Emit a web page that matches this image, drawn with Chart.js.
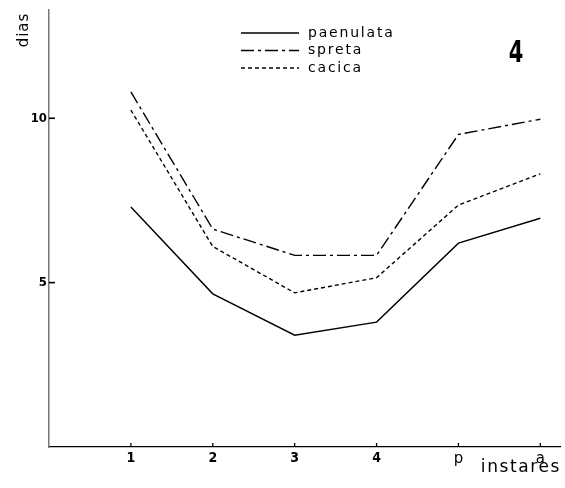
<!DOCTYPE html>
<html>
<head>
<meta charset="utf-8">
<script src="https://cdn.jsdelivr.net/npm/chart.js@4/dist/chart.umd.min.js"></script>
<style>
  html, body { margin: 0; padding: 0; background: #fff; }
  #wrap { width: 565px; height: 488px; }
</style>
</head>
<body>
<div id="wrap"><canvas id="chart" width="565" height="488"></canvas></div>
<script>
const stages = [1, 2, 3, 4, 5, 6];
const stageLabels = ["1", "2", "3", "4", "p", "a"];
const yTicks = [5, 10];

const paenulata = [7.3, 4.66, 3.4, 3.8, 6.2, 6.96];
const spreta = [10.8, 6.63, 5.83, 5.83, 9.51, 9.97];
const cacica = [10.25, 6.1, 4.69, 5.15, 7.36, 8.31];

const seriesNames = ["paenulata", "spreta", "cacica"];
const dashes = [[], [13, 4, 3, 4], [4, 3]];

function toPoints(values) {
    return stages.map((x, i) => ({ x: x, y: values[i] }));
}

// tick marks inside the axes, plus free texts (legend, "dias", "instares", "4")
const decorPlugin = {
    id: "decor",
    afterDraw(chart) {
        const ctx = chart.ctx;
        const xs = chart.scales.x;
        const ys = chart.scales.y;
        const area = chart.chartArea;
        ctx.save();
        ctx.strokeStyle = "#000";
        ctx.lineWidth = 1.3;
        stages.forEach(v => {
            const px = xs.getPixelForValue(v);
            ctx.beginPath();
            ctx.moveTo(px, area.bottom);
            ctx.lineTo(px, area.bottom - 4);
            ctx.stroke();
        });
        ctx.lineWidth = 1.6;
        yTicks.forEach(v => {
            const py = ys.getPixelForValue(v);
            ctx.beginPath();
            ctx.moveTo(area.left, py);
            ctx.lineTo(area.left + 6, py);
            ctx.stroke();
        });

        // legend
        ctx.fillStyle = "#000";
        ctx.font = "14px 'DejaVu Sans'";
        ctx.letterSpacing = "1.8px";
        ctx.textBaseline = "middle";
        ctx.textAlign = "left";
        seriesNames.forEach((name, i) => {
            const y = 33 + i * 17.5;
            ctx.setLineDash(dashes[i]);
            ctx.lineWidth = 1.3;
            ctx.beginPath();
            ctx.moveTo(241, y);
            ctx.lineTo(299, y);
            ctx.stroke();
            ctx.setLineDash([]);
            ctx.fillText(name, 308, y);
        });

        // "instares"
        ctx.textBaseline = "alphabetic";
        ctx.font = "17px 'DejaVu Sans'";
        ctx.letterSpacing = "1.6px";
        ctx.textAlign = "right";
        ctx.fillText("instares", 561, 472);

        // "dias"
        ctx.textAlign = "center";
        ctx.textBaseline = "middle";
        ctx.save();
        ctx.translate(24, 30);
        ctx.rotate(-Math.PI / 2);
        ctx.font = "15px 'DejaVu Sans'";
        ctx.letterSpacing = "1px";
        ctx.fillText("dias", 0, 0);
        ctx.restore();

        // panel number
        ctx.letterSpacing = "0px";
        ctx.translate(516, 54);
        ctx.scale(0.75, 1);
        ctx.font = "bold 31px 'DejaVu Sans Condensed'";
        ctx.fillText("4", 0, 0);
        ctx.restore();
    }
};

const datasets = [paenulata, spreta, cacica].map((vals, i) => ({
    label: seriesNames[i],
    data: toPoints(vals),
    borderColor: "#000",
    borderWidth: 1.4,
    borderDash: dashes[i],
    pointRadius: 0,
    tension: 0,
    fill: false
}));

new Chart(document.getElementById("chart"), {
    type: "line",
    data: { datasets: datasets },
    options: {
        responsive: false,
        animation: false,
        layout: { padding: { top: 9, right: 5, left: 0, bottom: 0 } },
        plugins: {
            legend: { display: false },
            tooltip: { enabled: false }
        },
        scales: {
            x: {
                type: "linear",
                min: 0,
                max: 6.24,
                afterBuildTicks: scale => { scale.ticks = stages.map(v => ({ value: v })); },
                afterFit: scale => { scale.height = 41; },
                grid: { display: false, drawTicks: false, tickLength: 0 },
                border: { display: true, color: "#000", width: 1.3 },
                ticks: {
                    padding: 3,
                    color: "#000",
                    maxRotation: 0,
                    autoSkip: false,
                    font: c => c.index >= 4
                        ? { family: "'DejaVu Sans'", size: 15 }
                        : { family: "'DejaVu Sans Condensed'", size: 14, weight: "bold" },
                    callback: (v, i) => stageLabels[i]
                }
            },
            y: {
                min: 0,
                max: 13.3,
                afterBuildTicks: scale => { scale.ticks = yTicks.map(v => ({ value: v })); },
                afterFit: scale => { scale.width = 49; },
                grid: { display: false, drawTicks: false, tickLength: 0 },
                border: { display: true, color: "#777", width: 1.5 },
                ticks: {
                    padding: 2,
                    color: "#000",
                    font: { family: "'DejaVu Sans Condensed'", size: 13, weight: "bold" }
                }
            }
        }
    },
    plugins: [decorPlugin]
});
</script>
</body>
</html>
